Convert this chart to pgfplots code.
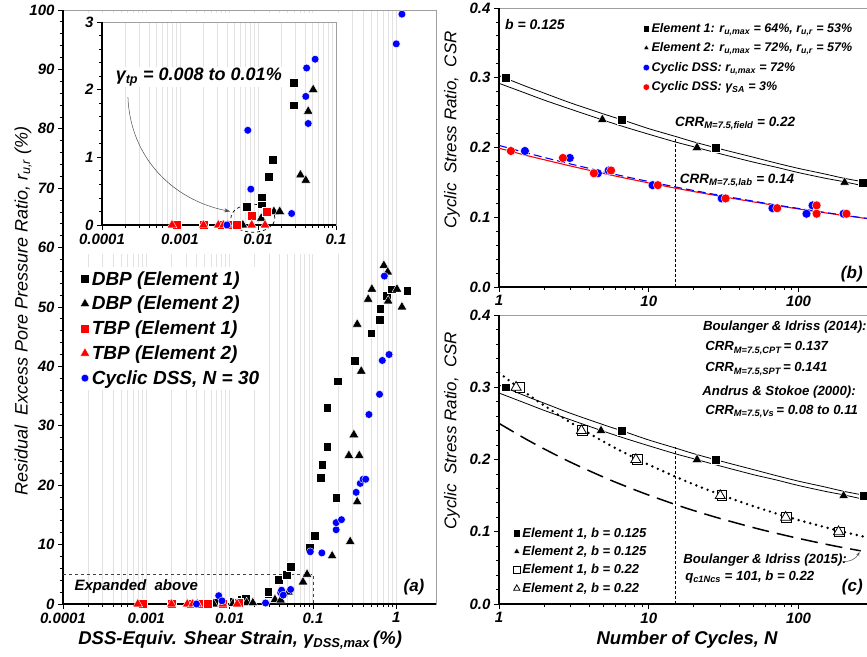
\documentclass[border=0pt]{standalone}
\usepackage{fontspec}
\setmainfont{Liberation Sans}
\usepackage{pgfplots}
\usepackage{pgfplotstable}
\pgfplotsset{compat=1.18}
\usetikzlibrary{arrows.meta}

\definecolor{dssblue}{RGB}{0,0,255}
\definecolor{tbpred}{RGB}{255,0,0}
\definecolor{gridgray}{RGB}{226,226,226}

\newcommand{\fs}[1]{\fontsize{#1}{#1}\selectfont}
\newcommand{\bi}{\bfseries\itshape}

% panel (a): DSS-equivalent shear strain (%) vs residual r_u (%)
\pgfplotstableread{
x y
0.0072 0.27
0.0112 0.32
0.0112 0.41
0.0138 0.71
0.0155 0.96
0.029 1.77
0.029 2.1
0.039 4.1
0.048 4.9
0.054 6.3
0.092 9.5
0.106 11.5
0.125 21.3
0.129 23.5
0.148 26.5
0.148 33.0
0.19 17.9
0.20 37.5
0.32 41.0
0.50 45.6
0.63 47.8
0.64 49.7
0.77 51.9
0.89 53.0
1.35 52.7
}\dbpA
\pgfplotstableread{
x y
0.0064 0
0.011 0.1
0.016 0.2
0.019 0.2
0.035 0.74
0.041 0.66
0.044 1.68
0.051 2.0
0.076 3.7
0.085 5.0
0.17 8.1
0.28 10.5
0.34 17.2
0.27 25.0
0.36 25.0
0.31 28.5
0.38 39.2
0.34 47.1
0.46 51.3
0.51 53.0
0.71 57.0
0.79 55.9
0.80 51.0
1.02 53.0
1.17 50.0
}\dbpB
\pgfplotstableread{
x y
0.00091 0
0.0020 0
0.0034 0
0.0042 0
0.0054 0
0.0083 0.13
0.0130 0.20
}\tbpA
\pgfplotstableread{
x y
0.00079 0
0.0020 0
0.0031 0
0.0036 0
0.0041 0
0.0083 0
0.0123 0
}\tbpB
\pgfplotstableread{
x y
0.0040 0
0.0074 1.4
0.0081 0.53
0.027 0.17
0.041 1.9
0.042 2.32
0.044 1.5
0.054 2.45
0.093 8.8
0.128 8.6
0.19 12.5
0.19 13.7
0.22 14.2
0.33 18.8
0.37 20.3
0.40 21.0
0.43 21.0
0.47 31.9
0.63 35.3
0.68 41.0
0.82 42.0
0.72 55.2
1.00 94.3
1.17 99.3
}\dss

\pgfplotsset{
  frame/.style={
    scale only axis, clip=false,
    axis line style={draw=gray!75, line width=0.6pt},
    tick align=outside, xtick pos=bottom, ytick pos=left,
    major tick length=5pt, minor tick length=3pt,
    tick style={black, line width=0.8pt},
    tick label style={font=\fs{15}\bi},
    /pgf/number format/assume math mode=true,
  },
  sqA/.style={only marks, mark=square*, mark size=4.4pt, mark options={fill=black, draw=white, line width=0.4pt}},
  trB/.style={only marks, mark=triangle*, mark size=5.6pt, mark options={fill=black, draw=white, line width=0.4pt}},
  sqR/.style={only marks, mark=square*, mark size=4.5pt, mark options={fill=tbpred, draw=white, line width=0.4pt}},
  trR/.style={only marks, mark=triangle*, mark size=5.6pt, mark options={fill=tbpred, draw=white, line width=0.4pt}},
  ciB/.style={only marks, mark=*, mark size=3.9pt, mark options={fill=dssblue, draw=white, line width=0.4pt}},
}

\begin{document}
\begin{tikzpicture}

% ---------------- (a) main
\begin{axis}[frame,
  at={(63pt,52pt)}, anchor=south west, width=373pt, height=594pt,
  xmode=log, xmin=1e-4, xmax=3, ymin=0, ymax=100,
  xtick={1e-4,1e-3,1e-2,1e-1,1}, xticklabels={0.0001,0.001,0.01,0.1,1},
  ytick={0,10,...,100}, minor y tick num=4,
  xmajorgrids, xminorgrids, grid style={gridgray, line width=0.9pt},
  xlabel={DSS-Equiv. Shear Strain, γ\textsubscript{DSS,max}\,(\%)},
  xlabel style={at={(axis description cs:0.475,0)}, anchor=center, yshift=-36pt, font=\fs{18.5}\bi},
  ylabel={Residual\ \ Excess Pore Pressure Ratio, r\textsubscript{u,r} (\%)},
  ylabel style={at={(axis description cs:-0.107,0.493)}, anchor=center, font=\fs{18}\itshape},
  legend style={at={(axis description cs:0.04,0.567)}, anchor=north west, fill=white, draw=none,
    font=\fs{19}\bi, row sep=5.5pt, inner sep=2pt},
  legend cell align=left,
  legend image code/.code={\draw[#1] plot coordinates {(0.17cm,0cm)}; \path[draw=none] (0cm,0cm) -- (0.3cm,0cm);},
]
\draw[black, line width=1.6pt] (axis description cs:0,1) -- (axis description cs:0,0) -- (axis description cs:1,0);
\fill[white] (axis cs:1.32e-4,58.9) rectangle (axis cs:0.223,99.5);
\draw[dashed, black!75, line width=0.7pt] (axis cs:1e-4,5) -- (axis cs:0.1,5) -- (axis cs:0.1,0);
\node[anchor=west, font=\fs{15}\bi] at (axis cs:1.25e-4,2.9) {Expanded\ \ above};
\node[anchor=east, font=\fs{17}\bi] at (axis cs:2.4,2.9) {(a)};
\addplot[sqA] table {\dbpA}; \addlegendentry{DBP (Element 1)}
\addplot[trB] table {\dbpB}; \addlegendentry{DBP (Element 2)}
\addplot[sqR] table {\tbpA}; \addlegendentry{TBP (Element 1)}
\addplot[trR] table {\tbpB}; \addlegendentry{TBP (Element 2)}
\addplot[ciB] table {\dss};  \addlegendentry{Cyclic DSS, N = 30}
\end{axis}

% ---------------- (a) inset
\begin{axis}[frame,
  at={(102pt,431pt)}, anchor=south west, width=234pt, height=203pt,
  xmode=log, xmin=1e-4, xmax=0.1, ymin=0, ymax=3,
  xtick={1e-4,1e-3,1e-2,1e-1}, xticklabels={0.0001,0.001,0.01,0.1},
  ytick={0,1,2,3}, minor y tick num=4,
  xmajorgrids, xminorgrids, grid style={gridgray, line width=0.9pt},
  restrict y to domain=-1:3.05,
]
\draw[black, line width=1.6pt] (axis description cs:0,1) -- (axis description cs:0,0) -- (axis description cs:1,0);
\node[anchor=west, fill=white, inner sep=1pt, font=\fs{18}\bi] at (axis cs:1.45e-4,2.19) {γ\textsubscript{tp} = 0.008 to 0.01\%};
\draw[-{Stealth[length=6pt,width=4pt]}, black!70, line width=0.5pt] (axis cs:2.15e-4,1.89) .. controls (axis cs:2.3e-4,1.0) and (axis cs:8e-4,0.37) .. (axis cs:0.0044,0.2);
\addplot[sqA] table {\dbpA};
\addplot[trB] table {\dbpB};
\addplot[sqR] table {\tbpA};
\addplot[trR] table {\tbpB};
\addplot[ciB] table {\dss};
\draw[dashed, black, line width=0.7pt] (axis cs:0.0086,0.1) ellipse [x radius=22pt, y radius=14pt];
\end{axis}

% ---------------- (b)
\begin{axis}[frame,
  at={(499pt,369pt)}, anchor=south west, width=371pt, height=279pt,
  xmode=log, xmin=1, xmax=300, ymin=0, ymax=0.4,
  xtick={1,10,100}, xticklabels={1,10,100},
  ytick={0,0.1,0.2,0.3,0.4}, minor y tick num=4,
  yticklabel style={/pgf/number format/.cd, fixed, fixed zerofill, precision=1},
  ylabel={Cyclic\ \ Stress Ratio,\ \ CSR},
  ylabel style={at={(axis description cs:-0.127,0.563)}, anchor=center, font=\fs{17}\itshape},
  legend style={at={(axis description cs:0.385,0.957)}, anchor=north west, fill=none, draw=none,
    font=\fs{12.5}\bi, row sep=5pt, inner sep=1pt},
  legend cell align=left,
  legend image code/.code={\draw[#1] plot coordinates {(0.1cm,0cm)}; \path[draw=none] (0cm,0cm) -- (0.2cm,0cm);},
  legend image post style={mark size=3.3pt},
]
\draw[black, line width=1.6pt] (axis description cs:0,1) -- (axis description cs:0,0) -- (axis description cs:1,0);
\addplot[black, line width=0.8pt, smooth, forget plot] coordinates {(1,0.303) (1.5,0.288) (2,0.278) (3,0.264) (5,0.248) (7,0.238) (10,0.227) (15,0.216) (20,0.208) (30,0.198) (50,0.186) (70,0.178) (100,0.170) (150,0.162) (200,0.156) (300,0.149)};
\addplot[black, line width=0.8pt, smooth, forget plot] coordinates {(1,0.292) (1.5,0.278) (2,0.268) (3,0.255) (5,0.239) (7,0.229) (10,0.219) (15,0.208) (20,0.201) (30,0.191) (50,0.179) (70,0.172) (100,0.164) (150,0.156) (200,0.151) (300,0.143)};
\addplot[tbpred, line width=1.1pt, smooth, forget plot] coordinates {(1,0.199) (1.5,0.189) (2,0.1825) (3,0.1735) (5,0.1627) (7,0.156) (10,0.1492) (15,0.1418) (20,0.1368) (30,0.1301) (50,0.122) (70,0.117) (100,0.1119) (150,0.1064) (200,0.1026) (300,0.0975)};
\addplot[dssblue, line width=1.1pt, dash pattern=on 8pt off 4pt, smooth, forget plot] coordinates {(1,0.203) (1.5,0.1927) (2,0.1858) (3,0.1764) (5,0.1652) (7,0.1582) (10,0.1512) (15,0.1435) (20,0.1383) (30,0.1313) (50,0.123) (70,0.1178) (100,0.1126) (150,0.1069) (200,0.103) (300,0.0978)};
\addplot[black, line width=0.6pt, densely dashed, forget plot] coordinates {(15,0) (15,0.216)};
\addplot[only marks, mark=square*, mark size=4.5pt, mark options={fill=black, draw=white, line width=0.4pt}] coordinates {(1.11,0.30) (6.6,0.24) (28,0.20) (270,0.15)};
\addlegendentry{Element 1: r\textsubscript{u,max} = 64\%, r\textsubscript{u,r} = 53\%}
\addplot[only marks, mark=triangle*, mark size=5.6pt, mark options={fill=black, draw=white, line width=0.4pt}] coordinates {(4.9,0.24) (21,0.20) (203,0.15)};
\addlegendentry{Element 2: r\textsubscript{u,max} = 72\%, r\textsubscript{u,r} = 57\%}
\addplot[only marks, mark=*, mark size=4.5pt, mark options={fill=dssblue, draw=white, line width=0.4pt}] coordinates {(1.49,0.195) (2.97,0.185) (4.57,0.163) (5.4,0.167) (10.6,0.146) (30.7,0.127) (67,0.113) (113,0.105) (124,0.117) (200,0.105)};
\addlegendentry{Cyclic DSS: r\textsubscript{u,max} = 72\%}
\addplot[only marks, mark=*, mark size=4.5pt, mark options={fill=tbpred, draw=white, line width=0.4pt}] coordinates {(1.2,0.195) (2.67,0.185) (4.3,0.163) (5.6,0.167) (11.5,0.146) (32.6,0.127) (72,0.113) (132,0.117) (132,0.105) (209,0.105)};
\addlegendentry{Cyclic DSS: γ\textsubscript{SA} = 3\%}
\node[anchor=west, font=\fs{14}\bi] at (axis cs:1.04,0.376) {b = 0.125};
\node[anchor=west, font=\fs{13.5}\bi] at (axis cs:14.2,0.234) {CRR\textsubscript{M=7.5,field} = 0.22};
\node[anchor=west, font=\fs{13.5}\bi] at (axis cs:15.3,0.153) {CRR\textsubscript{M=7.5,lab} = 0.14};
\node[anchor=east, font=\fs{17}\bi] at (axis cs:283,0.019) {(b)};
\end{axis}

% ---------------- (c)
\begin{axis}[frame,
  at={(499pt,52pt)}, anchor=south west, width=371pt, height=289pt,
  xmode=log, xmin=1, xmax=300, ymin=0, ymax=0.4,
  xtick={1,10,100}, xticklabels={1,10,100},
  ytick={0,0.1,0.2,0.3,0.4}, minor y tick num=4,
  yticklabel style={/pgf/number format/.cd, fixed, fixed zerofill, precision=1},
  xlabel={Number of Cycles, N},
  xlabel style={at={(axis description cs:0.507,0)}, anchor=center, yshift=-36pt, font=\fs{18.5}\bi},
  ylabel={Cyclic\ \ Stress Ratio,\ \ CSR},
  ylabel style={at={(axis description cs:-0.127,0.60)}, anchor=center, font=\fs{17}\itshape},
  legend style={at={(axis description cs:0.035,0.275)}, anchor=north west, fill=none, draw=none,
    font=\fs{13}\bi, row sep=3.5pt, inner sep=1pt},
  legend cell align=left,
  legend image code/.code={\draw[#1] plot coordinates {(0.1cm,0cm)}; \path[draw=none] (0cm,0cm) -- (0.2cm,0cm);},
  legend image post style={mark size=3.6pt},
]
\draw[black, line width=1.6pt] (axis description cs:0,1) -- (axis description cs:0,0) -- (axis description cs:1,0);
\addplot[black, line width=0.8pt, smooth, forget plot] coordinates {(1,0.303) (1.5,0.288) (2,0.278) (3,0.264) (5,0.248) (7,0.238) (10,0.227) (15,0.216) (20,0.208) (30,0.198) (50,0.186) (70,0.178) (100,0.170) (150,0.162) (200,0.156) (300,0.149)};
\addplot[black, line width=0.8pt, smooth, forget plot] coordinates {(1,0.292) (1.5,0.278) (2,0.268) (3,0.255) (5,0.239) (7,0.229) (10,0.219) (15,0.208) (20,0.201) (30,0.191) (50,0.179) (70,0.172) (100,0.164) (150,0.156) (200,0.151) (300,0.143)};
\addplot[black, line width=2.7pt, line cap=round, dash pattern=on 0pt off 6pt, smooth, forget plot] coordinates {(1,0.32) (1.5,0.2927) (2,0.2748) (3,0.2513) (5,0.2246) (7,0.2086) (10,0.1928) (15,0.1764) (20,0.1655) (30,0.1514) (50,0.1353) (70,0.1257) (100,0.1162) (150,0.1063) (200,0.0997) (300,0.0912)};
\addplot[black, line width=1.5pt, dash pattern=on 17pt off 8pt, smooth, forget plot] coordinates {(1,0.25) (1.5,0.2287) (2,0.2147) (3,0.1963) (5,0.1755) (7,0.163) (10,0.1507) (15,0.1378) (20,0.1293) (30,0.1183) (50,0.1057) (70,0.0982) (100,0.0908) (150,0.083) (200,0.0779) (260,0.0736)};
\addplot[black, line width=0.6pt, densely dashed, forget plot] coordinates {(15,0) (15,0.217)};
\addplot[only marks, mark=square*, mark size=4.3pt, mark options={fill=black, draw=white, line width=0.4pt}] coordinates {(1.11,0.30) (6.6,0.24) (28,0.20) (270,0.15)};
\addlegendentry{Element 1, b = 0.125}
\addplot[only marks, mark=triangle*, mark size=5.5pt, mark options={fill=black, draw=white, line width=0.4pt}] coordinates {(4.8,0.24) (21,0.20) (200,0.15)};
\addlegendentry{Element 2, b = 0.125}
\addplot[only marks, mark=square*, mark size=4.8pt, mark options={fill=white, draw=black, line width=0.8pt}] coordinates {(1.38,0.30) (3.6,0.24) (8.4,0.20) (30.7,0.15) (83,0.12) (187,0.10)};
\addlegendentry{Element 1, b = 0.22}
\addplot[only marks, mark=triangle*, mark size=5.8pt, mark options={fill=white, draw=black, line width=0.8pt}] coordinates {(1.3,0.30) (3.55,0.24) (8.2,0.20) (30,0.15) (82,0.12) (185,0.10)};
\addlegendentry{Element 2, b = 0.22}
\node[anchor=west, font=\fs{13.2}\bi] at (axis cs:21.8,0.383) {Boulanger \& Idriss (2014):};
\node[anchor=west, font=\fs{13.2}\bi] at (axis cs:22.6,0.354) {CRR\textsubscript{M=7.5,CPT}\,= 0.137};
\node[anchor=west, font=\fs{13.2}\bi] at (axis cs:22.6,0.325) {CRR\textsubscript{M=7.5,SPT}\,= 0.141};
\node[anchor=west, font=\fs{13.2}\bi] at (axis cs:21.6,0.293) {Andrus \& Stokoe (2000):};
\node[anchor=west, font=\fs{13.2}\bi] at (axis cs:22.6,0.266) {CRR\textsubscript{M=7.5,Vs}\,= 0.08 to 0.11};
\node[anchor=west, font=\fs{13.2}\bi] at (axis cs:16.1,0.061) {Boulanger \& Idriss (2015):};
\node[anchor=west, font=\fs{13.2}\bi] at (axis cs:16.6,0.037) {q\textsubscript{c1Ncs} = 101, b = 0.22};
\draw[-{Stealth[length=4pt,width=3pt]}, black!70, line width=0.5pt] (axis cs:196,0.059) to[bend right=35] (axis cs:255,0.072);
\node[anchor=east, font=\fs{17}\bi] at (axis cs:283,0.0235) {(c)};
\end{axis}

\pgfresetboundingbox
\path[use as bounding box] (0,0) rectangle (867pt,656pt);
\end{tikzpicture}
\end{document}
